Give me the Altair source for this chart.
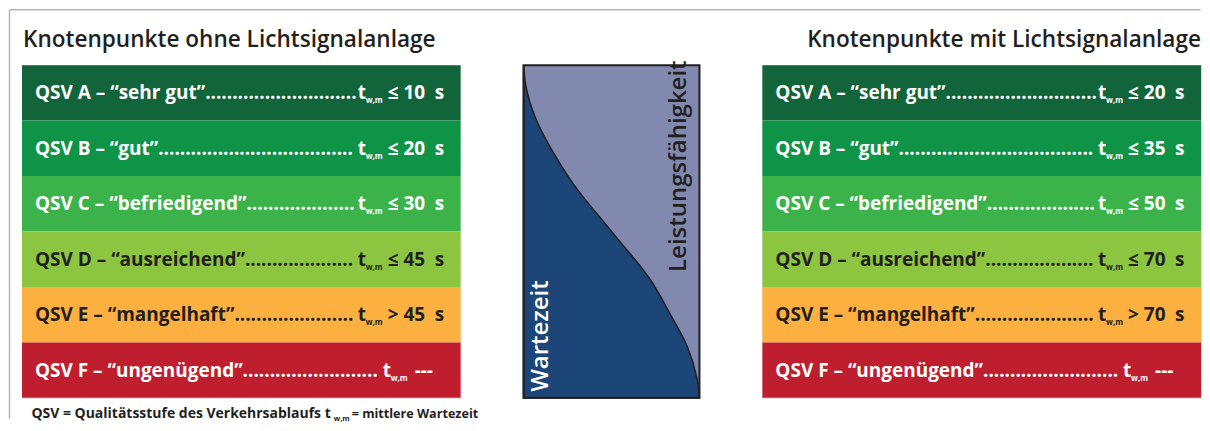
import altair as alt
import pandas as pd

# ---------------- data ----------------
levels = ["A", "B", "C", "D", "E", "F"]
grades = ["sehr gut", "gut", "befriedigend", "ausreichend", "mangelhaft", "ungenügend"]
left_limits = ["≤ 10 s", "≤ 20 s", "≤ 30 s", "≤ 45 s", "> 45 s", "---"]
right_limits = ["≤ 20 s", "≤ 35 s", "≤ 50 s", "≤ 70 s", "> 70 s", "---"]
band_colors = ["#12643a", "#0f9347", "#3bb34a", "#8cc540", "#fbb040", "#be1e2d"]
left_title = "Knotenpunkte ohne Lichtsignalanlage"
right_title = "Knotenpunkte mit Lichtsignalanlage"
footnote_parts = ["QSV = Qualitätsstufe des Verkehrsablaufs t", "w,m", "= mittlere Wartezeit"]
# boundary curve: height from bottom (v) and horizontal share of waiting time (u)
curve_v = [1, 0.94, 0.845, 0.745, 0.646, 0.5, 0.354, 0.255, 0.155, 0.06, 0]
curve_u = [0, 0.012, 0.065, 0.16, 0.278, 0.5, 0.722, 0.83, 0.93, 0.985, 1]
axis_left_label = "Wartezeit"
axis_right_label = "Leistungsfähigkeit"

# ---------------- style ----------------
FONT = "Open Sans"
DARK = "#231f20"
NAVY = "#1c4677"
LIGHT = "#8189ae"
FRAME = "#b5b5b5"
W, H, CW = 439, 333, 176
TX, TXF = 336, 361
WIDE = "\u2002"


def widen(v):
    # typographic spacing before the unit, as in the original
    parts = v.rsplit(" ", 1)
    return WIDE.join(parts) if len(parts) == 2 else v


yenc = alt.Y("level:N", sort=levels, axis=None,
             scale=alt.Scale(domain=levels, paddingInner=0, paddingOuter=0))
txtcolor = alt.condition(alt.FieldOneOfPredicate(field="level", oneOf=["D", "E"]),
                         alt.value(DARK), alt.value("white"))


def table_panel(limits, title, left_side):
    df = pd.DataFrame({
        "level": levels,
        "label": [f"QSV {l} – “{g}”" + "." * 90 for l, g in zip(levels, grades)],
        "limit": [widen(v) for v in limits],
    })
    base = alt.Chart(df)
    layers = [
        base.mark_rect().encode(
            y=yenc, x=alt.value(0), x2=alt.value("width"),
            color=alt.Color("level:N", scale=alt.Scale(domain=levels, range=band_colors), legend=None),
        )
    ]
    for subset, tx, vgap in [(levels[:5], TX, 30), (levels[5:], TXF, 32)]:
        sb = base.transform_filter(alt.FieldOneOfPredicate(field="level", oneOf=subset))
        common = dict(font=FONT, fontWeight="bold", baseline="alphabetic", align="left")
        layers.append(sb.mark_text(fontSize=19, dy=6.5, limit=tx - 13, ellipsis=".", **common)
                      .encode(y=yenc, x=alt.value(13), text="label:N", color=txtcolor))
        layers.append(sb.mark_text(fontSize=19, dy=6.5, text="t", **common)
                      .encode(y=yenc, x=alt.value(tx), color=txtcolor))
        layers.append(sb.mark_text(fontSize=8, dy=10.5, text="w,m", **common)
                      .encode(y=yenc, x=alt.value(tx + 8), color=txtcolor))
        layers.append(sb.mark_text(fontSize=19, dy=6.5, **common)
                      .encode(y=yenc, x=alt.value(tx + vgap), text="limit:N", color=txtcolor))
    tdf = pd.DataFrame({"t": [title]})
    layers.append(alt.Chart(tdf).mark_text(font=FONT, fontSize=22.6, fontWeight=600, color=DARK,
                                           baseline="alphabetic",
                                           align="left" if left_side else "right")
                  .encode(x=alt.value(1 if left_side else W), y=alt.value(-18), text="t:N"))
    if left_side:
        one = pd.DataFrame({"k": [0]})
        layers.append(alt.Chart(one).mark_rule(color=FRAME, strokeWidth=1.5)
                      .encode(x=alt.value(-12.5), x2=alt.value(1179.5), y=alt.value(-55.5)))
        layers.append(alt.Chart(one).mark_rule(color=FRAME, strokeWidth=1.5)
                      .encode(x=alt.value(-12.5), y=alt.value(-55.5), y2=alt.value(354)))
        fdf = pd.DataFrame({"t": footnote_parts})
        fb = alt.Chart(fdf)
        layers.append(fb.transform_filter(alt.datum.t == footnote_parts[0])
                      .mark_text(font=FONT, fontSize=14, fontWeight="bold", color=DARK,
                                 baseline="alphabetic", align="right")
                      .encode(x=alt.value(309), y=alt.value(353.5), text="t:N"))
        layers.append(fb.transform_filter(alt.datum.t == footnote_parts[1])
                      .mark_text(font=FONT, fontSize=7.5, fontWeight="bold", color=DARK,
                                 baseline="alphabetic", align="left")
                      .encode(x=alt.value(312), y=alt.value(356.5), text="t:N"))
        layers.append(fb.transform_filter(alt.datum.t == footnote_parts[2])
                      .mark_text(font=FONT, fontSize=12.6, fontWeight="bold", color=DARK,
                                 baseline="alphabetic", align="left")
                      .encode(x=alt.value(330), y=alt.value(353.5), text="t:N"))
    return alt.layer(*layers).properties(width=W, height=H)


# center panel
cdf = pd.DataFrame({"u": curve_u, "v": curve_v})
one = pd.DataFrame({"k": [0]})
xs = alt.X("u:Q", scale=alt.Scale(domain=[0, 1], nice=False, zero=True), axis=None)
ys = alt.Y("v:Q", scale=alt.Scale(domain=[0, 1], nice=False), axis=None)
center = alt.layer(
    alt.Chart(one).mark_rect(color=LIGHT).encode(
        x=alt.value(0), x2=alt.value("width"), y=alt.value(0), y2=alt.value("height")),
    alt.Chart(cdf).mark_area(color=NAVY, orient="horizontal", interpolate="monotone",
                             stroke=DARK, strokeWidth=1.6).encode(x=xs, y=ys),
    alt.Chart(one).mark_rect(fillOpacity=0, stroke=DARK, strokeWidth=2).encode(
        x=alt.value(0), x2=alt.value("width"), y=alt.value(0), y2=alt.value("height")),
    alt.Chart(pd.DataFrame({"t": [axis_left_label]})).mark_text(
        angle=270, align="left", baseline="alphabetic", font=FONT, fontSize=24,
        fontWeight=600, color="white").encode(x=alt.value(24), y=alt.value(327), text="t:N"),
    alt.Chart(pd.DataFrame({"t": [axis_right_label]})).mark_text(
        angle=270, align="left", baseline="alphabetic", font=FONT, fontSize=24,
        fontWeight=600, color=DARK).encode(x=alt.value(163), y=alt.value(207), text="t:N"),
).properties(width=CW, height=H)

chart = alt.hconcat(
    table_panel(left_limits, left_title, True),
    center,
    table_panel(right_limits, right_title, False),
    spacing=63, bounds="flush", padding=0,
).configure_view(stroke=None).configure(background="white")

chart.save("out.html", embed_options={"renderer": "svg", "actions": False})
